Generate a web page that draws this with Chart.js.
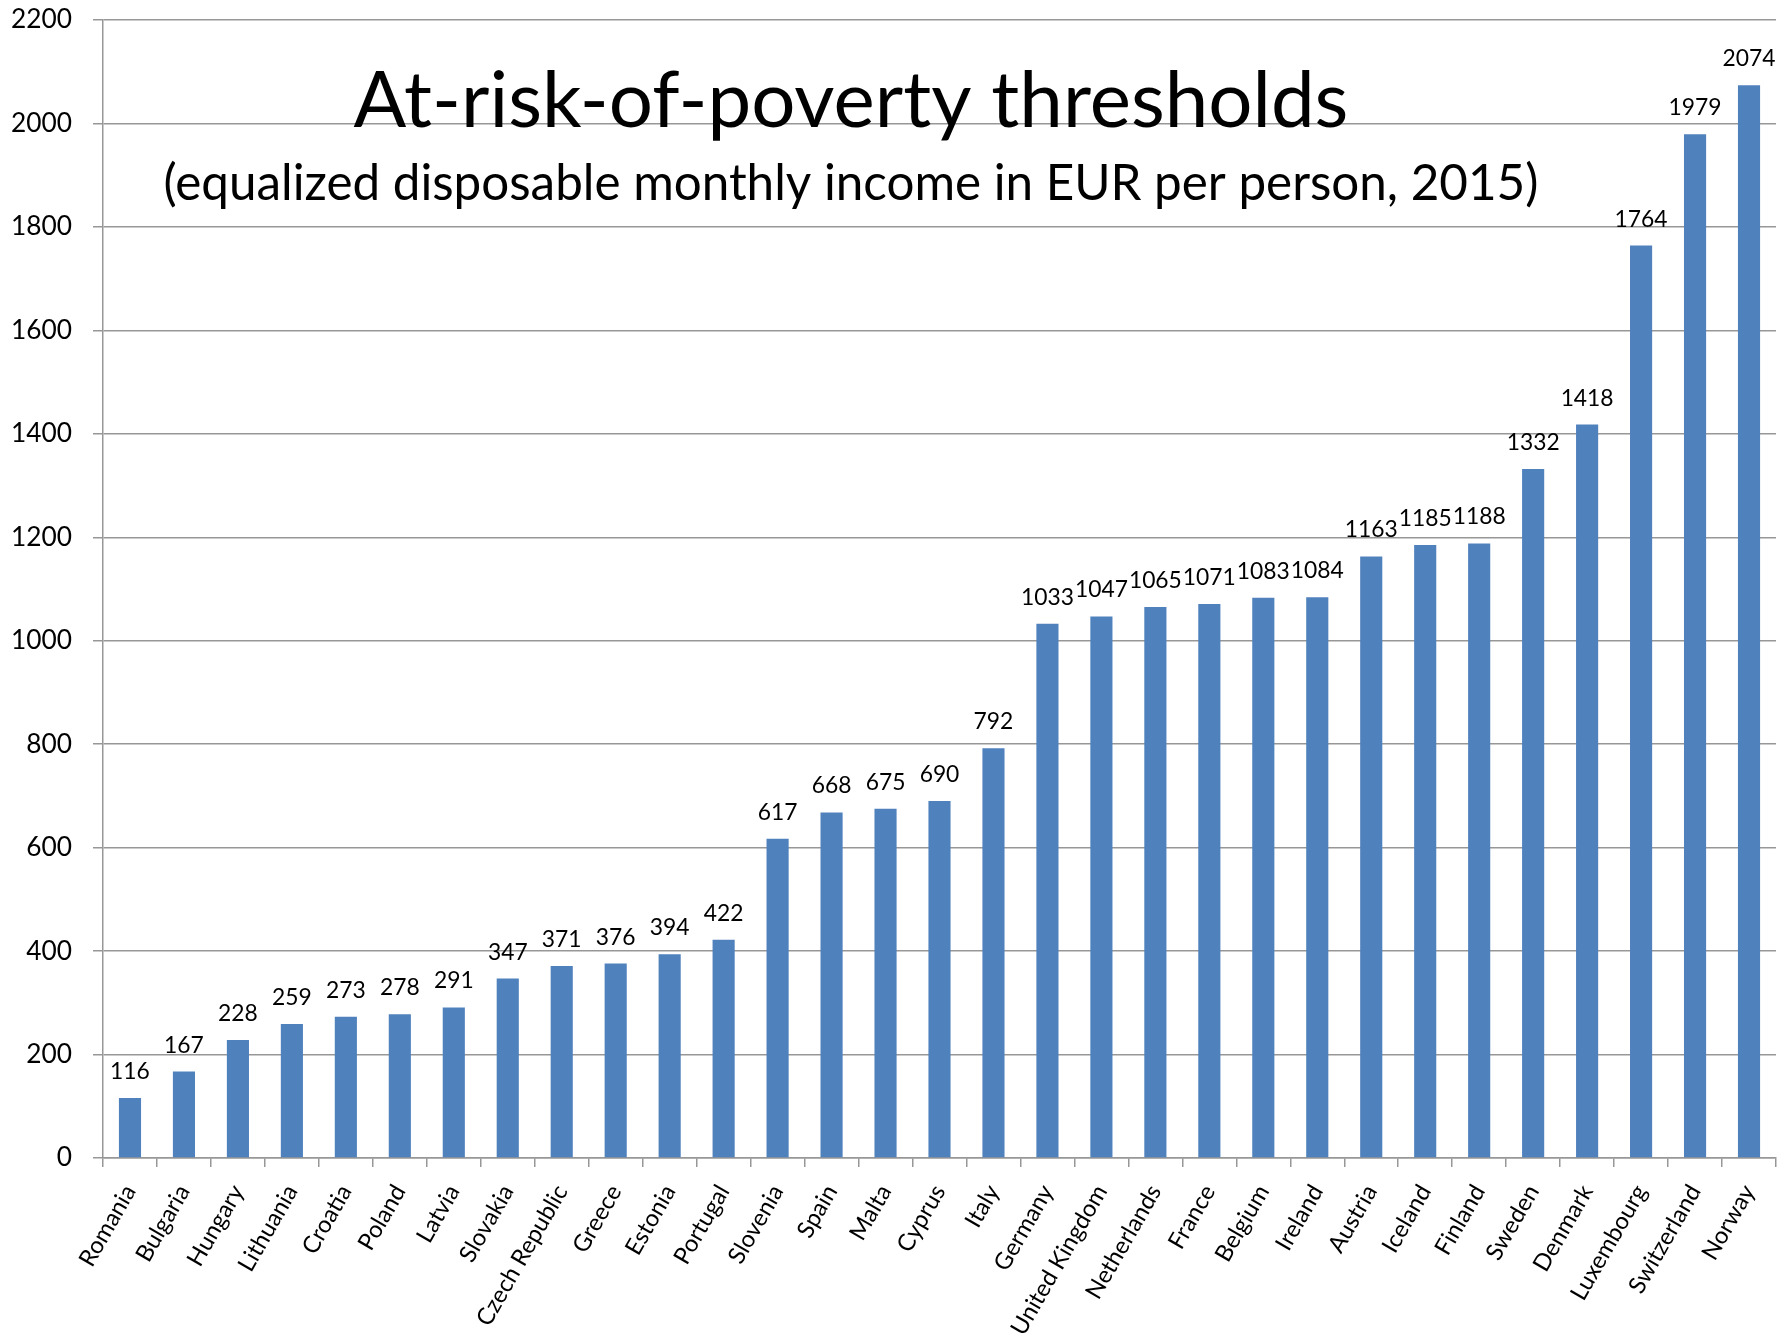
<!DOCTYPE html>
<html>
<head>
<meta charset="utf-8">
<script src="https://cdn.jsdelivr.net/npm/chart.js@4.4.0/dist/chart.umd.min.js"></script>
<style>
    body { margin: 0; background: #fff; }
    canvas { display: block; }
</style>
</head>
<body>
<canvas id="povertyChart" width="1792" height="1337"></canvas>
<script>
    // Countries and thresholds (EUR per month)
    const countries = ['Romania', 'Bulgaria', 'Hungary', 'Lithuania', 'Croatia', 'Poland', 'Latvia', 'Slovakia',
        'Czech Republic', 'Greece', 'Estonia', 'Portugal', 'Slovenia', 'Spain', 'Malta', 'Cyprus', 'Italy',
        'Germany', 'United Kingdom', 'Netherlands', 'France', 'Belgium', 'Ireland', 'Austria', 'Iceland',
        'Finland', 'Sweden', 'Denmark', 'Luxembourg', 'Switzerland', 'Norway'];
    const thresholds = [116, 167, 228, 259, 273, 278, 291, 347, 371, 376, 394, 422, 617, 668, 675, 690, 792,
        1033, 1047, 1065, 1071, 1083, 1084, 1163, 1185, 1188, 1332, 1418, 1764, 1979, 2074];
    const yTicks = [0, 200, 400, 600, 800, 1000, 1200, 1400, 1600, 1800, 2000, 2200];

    const titleText = 'At-risk-of-poverty thresholds';
    const subtitleText = '(equalized disposable monthly income in EUR per person, 2015)';

    const FONT = 'Lato';
    const measureCtx = document.createElement('canvas').getContext('2d');

    // pick a font size so that text comes out at the given width
    function fitSize(text, width) {
        measureCtx.font = '100px ' + FONT;
        return 100 * width / measureCtx.measureText(text).width;
    }

    const yTickSize = fitSize('2200', 61);
    const xTickSize = fitSize('Czech Republic', 158);
    const valueSize = fitSize('1764', 53);
    const titleSize = fitSize(titleText, 995);
    const subtitleSize = fitSize(subtitleText, 1375);

    // value above each bar
    const barValues = {
        id: 'barValues',
        afterDatasetsDraw(chart) {
            const ctx = chart.ctx;
            const meta = chart.getDatasetMeta(0);
            ctx.save();
            ctx.font = valueSize + 'px ' + FONT;
            ctx.fillStyle = '#000';
            ctx.textAlign = 'center';
            ctx.textBaseline = 'alphabetic';
            meta.data.forEach((bar, i) => {
                ctx.fillText(String(thresholds[i]), bar.x, bar.y - 19);
            });
            ctx.restore();
        }
    };

    // two-line heading drawn inside the plot
    const heading = {
        id: 'heading',
        afterDraw(chart) {
            const ctx = chart.ctx;
            ctx.save();
            ctx.fillStyle = '#000';
            ctx.textAlign = 'center';
            ctx.textBaseline = 'alphabetic';
            ctx.font = titleSize + 'px ' + FONT;
            ctx.fillText(titleText, 851, 127);
            ctx.font = subtitleSize + 'px ' + FONT;
            ctx.fillText(subtitleText, 851, 200);
            ctx.restore();
        }
    };

    const ctx = document.getElementById('povertyChart').getContext('2d');
    new Chart(ctx, {
        type: 'bar',
        data: {
            labels: countries,
            datasets: [{
                data: thresholds,
                backgroundColor: '#4F81BD',
                borderWidth: 0,
                barPercentage: 0.41,
                categoryPercentage: 1
            }]
        },
        options: {
            responsive: false,
            animation: false,
            devicePixelRatio: 1,
            layout: {
                padding: { top: 20, right: 16, left: 0, bottom: 0 }
            },
            scales: {
                y: {
                    min: 0,
                    max: 2200,
                    afterBuildTicks: scale => { scale.ticks = yTicks.map(v => ({ value: v })); },
                    afterFit: scale => {
                        scale.width = 103;
                        scale.paddingTop = 0;
                        scale.paddingBottom = 0;
                    },
                    border: { color: '#979797', width: 1.5 },
                    grid: {
                        color: '#979797',
                        lineWidth: 1.5,
                        tickLength: 10
                    },
                    ticks: {
                        color: '#000',
                        padding: 21,
                        font: { family: FONT, size: yTickSize },
                        callback: value => String(value)
                    }
                },
                x: {
                    afterFit: scale => { scale.height = 1337 - 1158; },
                    border: { color: '#979797', width: 1.5 },
                    grid: {
                        color: '#979797',
                        lineWidth: 1.5,
                        drawOnChartArea: false,
                        tickLength: 9
                    },
                    ticks: {
                        color: '#000',
                        minRotation: 60,
                        maxRotation: 60,
                        autoSkip: false,
                        padding: 13,
                        font: { family: FONT, size: xTickSize }
                    }
                }
            },
            plugins: {
                legend: { display: false },
                tooltip: { enabled: false }
            }
        },
        plugins: [barValues, heading]
    });
</script>
</body>
</html>
